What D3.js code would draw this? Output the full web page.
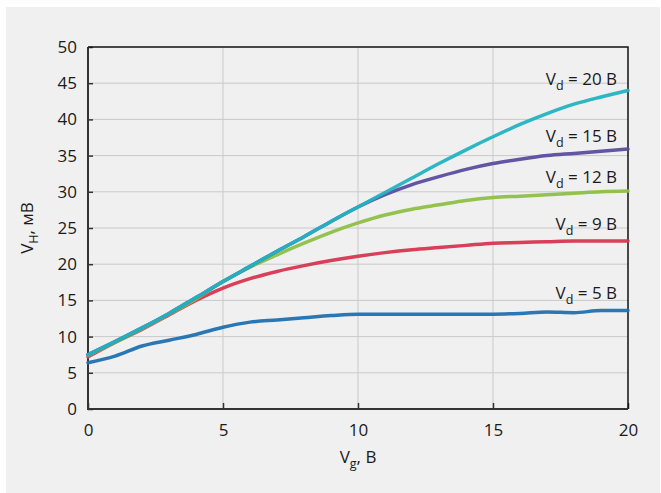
<!DOCTYPE html>
<head>
	<meta charset="utf-8">
	<title>V_H vs V_g</title>
	<script src="https://d3js.org/d3.v7.min.js"></script>
	<style>
		body{
			margin: 0;
			background-color: white;
		}
		text{
			font-family: 'Open Sans', sans-serif;
			fill: #1a1a1a;
		}
	</style>
</head>
<body>
	<div id="chart"></div>

	<script>
		var width = 661;
		var height = 493;

		// gate voltage, B
		var vg = [0,1,2,3,4,5,6,7,8,9,10,11,12,13,14,15,16,17,18,19,20];

		// Hall voltage (mV) for each drain voltage
		var vd5  = [6.4, 7.3, 8.7, 9.5, 10.3, 11.3, 12.0, 12.3, 12.6, 12.9, 13.1, 13.1, 13.1, 13.1, 13.1, 13.1, 13.2, 13.4, 13.3, 13.6, 13.6];
		var vd9  = [7.2, 9.2, 11.0, 13.0, 15.0, 16.7, 18.0, 19.0, 19.8, 20.5, 21.1, 21.6, 22.0, 22.3, 22.6, 22.9, 23.0, 23.1, 23.2, 23.2, 23.2];
		var vd12 = [7.4, 9.2, 11.1, 13.1, 15.2, 17.6, 19.6, 21.3, 22.9, 24.4, 25.7, 26.8, 27.6, 28.2, 28.8, 29.2, 29.4, 29.6, 29.8, 30.0, 30.1];
		var vd15 = [7.5, 9.3, 11.2, 13.2, 15.4, 17.6, 19.7, 21.8, 23.8, 25.9, 27.9, 29.6, 31.0, 32.1, 33.1, 33.9, 34.5, 35.0, 35.3, 35.6, 35.9];
		var vd20 = [7.5, 9.3, 11.2, 13.2, 15.4, 17.6, 19.7, 21.8, 23.8, 25.9, 27.9, 29.9, 31.9, 33.9, 35.8, 37.6, 39.3, 40.8, 42.1, 43.1, 44.0];

		var seriesNames = ["5", "9", "12", "15", "20"];
		var seriesValues = [vd5, vd9, vd12, vd15, vd20];
		var labelAt = [15.2, 24.7, 31.2, 36.9, 44.75]; // where the labels sit, mV

		var xTicks = [0, 5, 10, 15, 20];
		var yTicks = [0, 5, 10, 15, 20, 25, 30, 35, 40, 45, 50];

		var colors = d3.scaleOrdinal()
			.domain(seriesNames)
			.range(["#1f70b2", "#d7354f", "#8dc044", "#5a4c9e", "#22b3c2"]);

		var margin = {left: 88, right: 33, top: 47, bottom: 84};
		var fs = "17px", sub = "12.5px";

		var svg = d3.select("#chart").append("svg")
			.attr("width", width)
			.attr("height", height);

		// grey panel behind everything
		svg.append("rect")
			.attr("x", 6).attr("y", 7)
			.attr("width", 654).attr("height", 486)
			.attr("fill", "#f0f0f0");

		var x = d3.scaleLinear().domain([0, 20]).range([margin.left, width - margin.right]);
		var y = d3.scaleLinear().domain([0, 50]).range([height - margin.bottom, margin.top]);

		// grid
		svg.append("g").selectAll("line").data(xTicks.slice(1, -1)).enter().append("line")
			.attr("x1", d => x(d)).attr("x2", d => x(d))
			.attr("y1", y(0)).attr("y2", y(50))
			.attr("stroke", "#c9c9c9").attr("stroke-width", 1);
		svg.append("g").selectAll("line").data(yTicks.slice(1, -1)).enter().append("line")
			.attr("x1", x(0)).attr("x2", x(20))
			.attr("y1", d => y(d)).attr("y2", d => y(d))
			.attr("stroke", "#c9c9c9").attr("stroke-width", 1);

		// axes (ticks point inwards)
		var yAxis = svg.append("g")
			.attr("transform", "translate(" + x(0) + ",0)")
			.call(d3.axisLeft(y).tickValues(yTicks).tickSize(-5).tickPadding(11));
		var xAxis = svg.append("g")
			.attr("transform", "translate(0," + y(0) + ")")
			.call(d3.axisBottom(x).tickValues(xTicks).tickSize(-6).tickPadding(15));

		[xAxis, yAxis].forEach(function(a){
			a.select(".domain").remove();
			a.selectAll("line").attr("stroke", "#333").attr("stroke-width", 1.5);
			a.selectAll("text")
				.style("font-family", "'Open Sans', sans-serif")
				.style("font-size", fs)
				.attr("fill", "#1a1a1a");
		});

		// frame
		svg.append("path")
			.attr("d", "M" + x(0) + "," + y(50) + "H" + x(20) + "V" + y(0))
			.attr("fill", "none").attr("stroke", "#111").attr("stroke-width", 1.5);
		svg.append("path")
			.attr("d", "M" + x(0) + "," + y(50) + "V" + y(0) + "H" + x(20))
			.attr("fill", "none").attr("stroke", "#333").attr("stroke-width", 2);

		// curves
		var line = d3.line()
			.x((d, i) => x(vg[i]))
			.y(d => y(d))
			.curve(d3.curveMonotoneX);

		svg.append("g").selectAll("path").data(seriesValues).enter().append("path")
			.attr("d", line)
			.attr("fill", "none")
			.attr("stroke", (d, i) => colors(seriesNames[i]))
			.attr("stroke-width", 3.5)
			.attr("stroke-linecap", "round")
			.attr("opacity", 0.95);

		// labels V_d = ... B
		var labels = svg.append("g").selectAll("text").data(seriesNames).enter().append("text")
			.attr("x", x(20) - 11)
			.attr("y", (d, i) => y(labelAt[i]))
			.attr("text-anchor", "end")
			.style("font-size", fs);
		labels.append("tspan").text("V");
		labels.append("tspan").attr("dy", 5).style("font-size", sub).text("d");
		labels.append("tspan").attr("dy", -5).text(d => " = " + d + " B");

		// axis titles
		var xt = svg.append("text")
			.attr("x", (x(0) + x(20)) / 2)
			.attr("y", 463)
			.attr("text-anchor", "middle")
			.style("font-size", fs);
		xt.append("tspan").text("V");
		xt.append("tspan").attr("dy", 5).style("font-size", sub).text("g");
		xt.append("tspan").attr("dy", -5).text(", B");

		var yt = svg.append("text")
			.attr("transform", "translate(33," + ((y(0) + y(50)) / 2) + ") rotate(-90)")
			.attr("text-anchor", "middle")
			.style("font-size", fs);
		yt.append("tspan").text("V");
		yt.append("tspan").attr("dy", 5).style("font-size", sub).text("H");
		yt.append("tspan").attr("dy", -5).text(", мВ");
	</script>
</body>
